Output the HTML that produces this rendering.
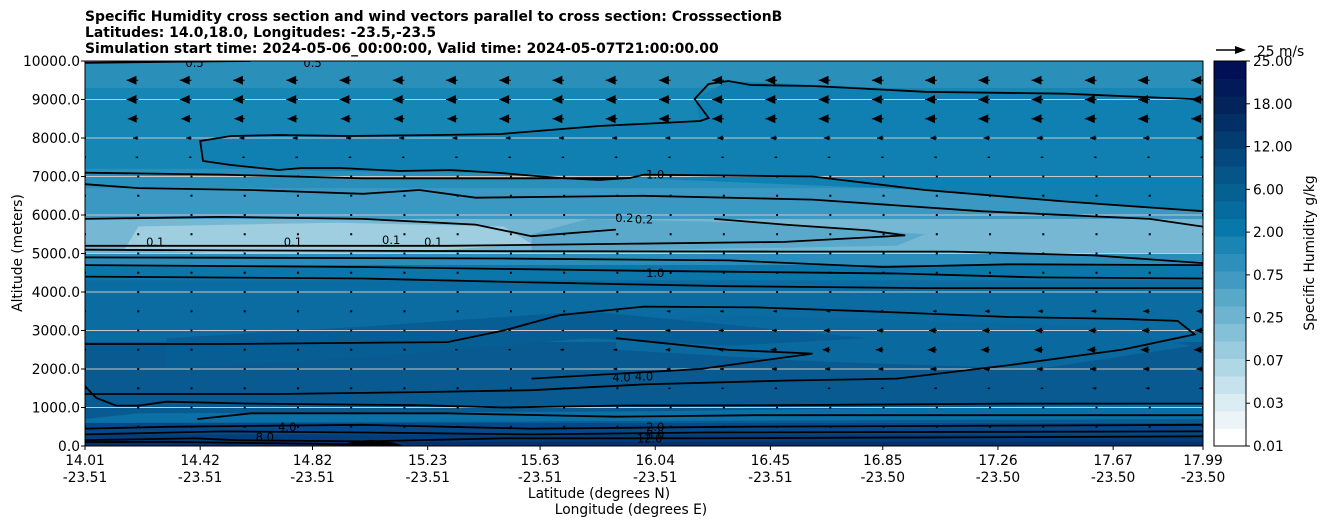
<!DOCTYPE html>
<html><head><meta charset="utf-8"><style>
body{margin:0;background:#fff;width:1326px;height:526px;overflow:hidden;font-family:"Liberation Sans","DejaVu Sans",sans-serif}
svg text{font-family:"DejaVu Sans","Liberation Sans",sans-serif}
</style></head><body>
<svg id="c" width="1326" height="526" xmlns="http://www.w3.org/2000/svg">
<g font-size="13.9" font-weight="bold">
<text x="85" y="21">Specific Humidity cross section and wind vectors parallel to cross section: CrosssectionB</text>
<text x="85" y="37">Latitudes: 14.0,18.0, Longitudes: -23.5,-23.5</text>
<text x="85" y="53">Simulation start time: 2024-05-06_00:00:00, Valid time: 2024-05-07T21:00:00.00</text>
</g>
<defs><clipPath id="pc"><rect x="85" y="61" width="1118" height="385"/></clipPath></defs>
<g id="fills" clip-path="url(#pc)"></g>
<g id="grid"></g>
<g id="lines" clip-path="url(#pc)" fill="none" stroke="#000" stroke-width="1.8"></g>
<g id="vecs" clip-path="url(#pc)"></g>
<g id="axes"></g>
<g id="cbar"></g>
</svg>
<script>
// ---- data ----
const latTicks=["14.01","14.42","14.82","15.23","15.63","16.04","16.45","16.85","17.26","17.67","17.99"];
const lonTicks=["-23.51","-23.51","-23.51","-23.51","-23.51","-23.51","-23.51","-23.50","-23.50","-23.50","-23.50"];
const latVals=[14.01,14.42,14.82,15.23,15.63,16.04,16.45,16.85,17.26,17.67,17.99];
const altTicks=[0,1000,2000,3000,4000,5000,6000,7000,8000,9000,10000];
const cbLabels=["0.01","0.03","0.07","0.25","0.75","2.00","6.00","12.00","18.00","25.00"];
const cbColors=["#ffffff","#ecf4f8","#dbecf2","#c6e2ec","#b0d7e5","#9bcbdf","#84c0d8","#6eb4d0","#58a8c8","#4299c1","#2e8fbb","#1a84b3","#0878aa","#066c9f","#066193","#055589","#04487d","#033c71","#022f66","#02245b","#02195a","#010f55"];
// background bands: [altLow, altHigh, color]
const bands=[[0,10000,"#1686b5"],[9300,10000,"#2a90ba"],[6700,7200,"#2a8fbb"],[5900,6700,"#3a98c2"],[5000,5900,"#76b8d3"],[4700,5000,"#2a8cba"],[4300,4700,"#0b76aa"],[2600,4300,"#0a6ca0"],[600,2700,"#085a91"],[300,600,"#05498a"],[120,300,"#033d7a"],[0,120,"#06306b"]];
// extra fill polygons [lat,alt] with color
const polys=[
 {c:"#0f80b1",p:[[14.42,7922],[14.7,8078],[15.5,8104],[16.2,8442],[16.18,9013],[16.3,9481],[17.0,9250],[17.99,9000],[17.99,6100],[17.0,6650],[16.0,6950],[15.5,7091],[14.7,7169],[14.43,7403]]},
 {c:"#9fcee0",p:[[14.15,5100],[14.5,5000],[15.2,5050],[15.6,5250],[15.5,5700],[14.9,5800],[14.2,5700]]},
 {c:"#5aa9cb",p:[[15.6,5050],[16.5,5150],[16.9,5200],[17.0,5500],[16.4,5800],[15.8,5900],[15.6,5500]]},
 {c:"#0a6aa0",p:[[15.9,2500],[16.6,2200],[17.4,2000],[17.95,2600],[17.6,3100],[16.8,3300],[16.2,3400],[15.9,3000]]},
 {c:"#065e95",p:[[14.3,2000],[15.0,2300],[15.8,2800],[16.3,2600],[16.8,2800],[15.8,3500],[15.0,3100],[14.3,2800]]},
 {c:"#0a70a5",p:[[14.01,700],[14.2,850],[16,900],[17.99,1100],[17.99,700],[14.01,600]]},
 {c:"#000000",p:[[14.91,0],[14.97,130],[15.03,160],[15.1,100],[15.15,0]]}
];
// contour lines [lat,alt]
const contours=[
 [[14.01,9950],[14.3,9980],[14.6,10000]],
 [[17.99,9000],[17.5,9150],[17.0,9200],[16.6,9350],[16.38,9377],[16.30,9481],[16.23,9403],[16.18,9013],[16.23,8519],[16.20,8442],[16.06,8390],[15.84,8312],[15.49,8104],[15.27,8078],[14.95,8052],[14.70,8078],[14.53,8052],[14.42,7922],[14.43,7403],[14.53,7299],[14.70,7169],[14.78,7221],[14.92,7221],[15.13,7143],[15.31,7169],[15.49,7091],[15.70,6961],[15.84,6909],[15.95,6960]],
 [[14.01,7100],[14.5,7050],[15.0,6950],[15.6,6950],[15.95,6960],[16.0,7050],[16.6,7000],[17.0,6650],[17.5,6350],[17.99,6100]],
 [[14.01,6800],[14.2,6700],[14.6,6650],[15.0,6550],[15.2,6650],[15.4,6450],[16.0,6500],[16.6,6400],[17.2,6100],[17.8,5900],[17.99,5700]],
 [[14.01,5900],[14.5,5950],[15.0,5900],[15.4,5750],[15.6,5450],[15.9,5620]],
 [[16.25,5900],[16.5,5750],[16.8,5600],[16.93,5470],[16.5,5300],[15.9,5250],[15.3,5200],[14.8,5200],[14.3,5200],[14.01,5200]],
 [[14.01,5100],[14.5,5080],[15.5,5060],[16.5,5050],[17.1,5050],[17.6,4950],[17.99,4750]],
 [[14.01,4900],[14.5,4890],[15.5,4870],[16.3,4820],[16.85,4650],[17.3,4720],[17.99,4700]],
 [[14.01,4700],[15.0,4650],[16.0,4550],[16.9,4480],[17.4,4380],[17.99,4350]],
 [[14.01,4400],[15.0,4350],[15.6,4250],[16.3,4150],[17.0,4100],[17.99,4100]],
 [[14.01,2650],[14.5,2650],[15.3,2700],[15.5,3000],[15.7,3400],[16.0,3620],[16.4,3600],[16.8,3500],[17.3,3350],[17.7,3300],[17.9,3250],[17.96,2900],[17.7,2500],[17.3,2100],[16.9,1750],[16.5,1700],[16.0,1600],[15.6,1450],[15.2,1400],[14.7,1350],[14.01,1350]],
 [[15.6,1750],[16.2,2000],[16.6,2400],[16.3,2500],[15.9,2800]],
 [[14.01,1550],[14.05,1250],[14.12,1050],[14.2,1050],[14.3,1150],[14.6,1100],[15.2,1060],[15.5,1000],[15.9,1050],[16.5,1060],[17.3,1100],[17.99,1100]],
 [[14.41,700],[14.6,850],[15.3,850],[15.9,760],[16.4,800],[17.0,800],[17.99,800]],
 [[14.01,450],[14.3,500],[15.0,550],[15.6,450],[16.3,500],[17.99,550]],
 [[14.01,300],[14.5,380],[15.0,350],[15.6,300],[16.2,350],[17.99,380]],
 [[14.01,150],[14.4,200],[14.55,150],[15.0,120],[15.5,200],[16.2,200],[17.99,250]],
 [[14.01,100],[14.3,110],[14.8,60],[15.0,30]]
];
const labels=[["1.0",16.04,7050],["0.2",15.93,5920],["0.2",16.0,5880],["1.0",16.04,4500],["4.0",15.92,1780],["4.0",16.0,1800],["2.0",16.04,500],["8.0",16.04,300],["12.0",16.02,200],["4.0",14.73,500],["8.0",14.65,230],["0.5",14.4,9950],["0.5",14.82,9950],["0.1",14.26,5300],["0.1",14.75,5300],["0.1",15.1,5350],["0.1",15.25,5300]];
// wind rows: altitude, u (m/s) per column (22 columns)
const rowAlt=[9500,9000,8500,8000,7500,7000,6500,6000,5500,5000,4500,4000,3500,3000,2500,2000,1500,1000,500];
const rowU=[
 [-2,-9,-9,-9,-9,-9,-9,-9,-9,-9,-9,-9,-9,-9,-9,-9,-9,-9,-9,-9,-9,-9],
 [-2,-9,-9,-9,-9,-9,-9,-9,-9,-9,-9,-9,-9,-9,-9,-9,-9,-9,-9,-9,-9,-9],
 [-2,-8,-8,-8,-8,-8,-8,-8,-9,-9,-9,-9,-9,-9,-9,-9,-9,-9,-9,-9,-9,-9],
 [-1,-4,-4,-4,-4,-4,-4,-4,-4,-4,-4,-4,-5,-5,-5,-5,-5,-5,-5,-5,-5,-5],
 [-1,-2,-2,-2,-2,-2,-2,-2,-2,-2,-2,-2,-2,-2,-2,-2,-2,-2,-2,-2,-2,-2],
 [-1,-1,-1,-1,-1,-1,-1,-1,-1,-1,-1,-1,-1,-1,-1,-1,-1,-1,-1,-1,-1,-1],
 [-1,-1,-1,-1,-1,-1,-1,-1,-1,-1,-1,-1,-1,-1,-1,-1,-1,-1,-1,-1,-1,-1],
 [-1,-1,-1,-1,-1,-1,-1,-1,-1,-1,-1,-1,-1,-1,-1,-1,-1,-1,-1,-1,-1,-1],
 [-1,-1,-1,-1,-1,-1,-1,-1,-1,-1,-1,-1,-1,-1,-1,-1,-1,-1,-1,-1,-1,-1],
 [-1,-1,-1,-1,-1,-1,-1,-1,-1,-1,-1,-1,-1,-1,-1,-1,-1,-1,-1,-1,-1,-1],
 [-1,-1,-1,-1,-1,-1,-1,-1,-1,-1,-1,-1,-1,-1,-1,-1,-1,-1,-1,-1,-1,-1],
 [-1,-1,-1,-1,-1,-1,-1,-1,-1,-1,-1,-1,-1,-1,-1,-1,-1,-1,-1,-1,-1,-1],
 [-1,-1,-1,-1,-1,-1,-1,-1,-1,-1,-1,-3,-3,-3,-3,-3,-3,-4,-4,-4,-5,-5],
 [-1,-1,-1,-1,-1,-1,-1,-2,-2,-2,-3,-4,-4,-4,-5,-5,-6,-6,-6,-6,-6,-6],
 [-1,-1,-1,-1,-1,-1,-1,-2,-2,-3,-3,-4,-4,-5,-6,-6,-7,-7,-7,-7,-7,-7],
 [-1,-1,-1,-1,-1,-1,-1,-1,-1,-2,-3,-3,-3,-4,-4,-4,-5,-5,-5,-5,-5,-5],
 [-1,-1,-1,-1,-1,-1,-1,-1,-1,-1,-1,-2,-2,-2,-2,-2,-2,-2,-2,-3,-3,-3],
 [-1,-1,-1,-1,-1,-1,-1,-1,-1,-1,-1,-1,-1,-1,-1,-1,-1,-1,-1,-1,-1,-1],
 [-1,-1,-1,-1,-1,-1,-1,-1,-1,-1,-1,-1,-1,-1,-1,-1,-1,-1,-1,-1,-1,-1]
];
// ---- scales ----
const X0=85,X1=1203,Y0=446,Y1=61;
const xs=l=>X0+(l-14.01)/(17.99-14.01)*(X1-X0);
const ys=a=>Y0-a/10000*(Y0-Y1);
const NS="http://www.w3.org/2000/svg";
function mk(t,a,p){const e=document.createElementNS(NS,t);for(const k in a)e.setAttribute(k,a[k]);p.appendChild(e);return e;}
const G=id=>document.getElementById(id);
const FS=13.8;
// fills
bands.forEach(b=>{const r=mk("rect",{x:X0,y:ys(b[1]),width:X1-X0,height:ys(b[0])-ys(b[1]),fill:b[2]},G("fills"));

});
polys.forEach(o=>{const e=mk("polygon",{points:o.p.map(q=>xs(q[0])+","+ys(q[1])).join(" "),fill:o.c},G("fills"));

});
// grid
altTicks.forEach(a=>{const e=mk("line",{x1:X0,x2:X1,y1:ys(a),y2:ys(a),stroke:"#c8c8c8","stroke-width":1},G("grid"));

});
// contours
contours.forEach(c=>{const e=mk("polyline",{points:c.map(q=>xs(q[0]).toFixed(1)+","+ys(q[1]).toFixed(1)).join(" ")},G("lines"));

});
labels.forEach(l=>{const e=mk("text",{x:xs(l[1]),y:ys(l[2])+4,"font-size":11.5,"text-anchor":"middle",fill:"#000",stroke:"none"},G("lines"));e.textContent=l[0];

});
// vectors
const colStep=(X1-X0)/21;
rowAlt.forEach((a,ri)=>{rowU[ri].forEach((u,ci)=>{
 const x=X0+ci*colStep,y=ys(a),L=Math.abs(u);
 const g=mk("g",{},G("vecs"));
 
 
 if(L<=1){mk("rect",{x:x-1,y:y-1,width:2,height:2,fill:"#000"},g);return;}
 const hl=Math.min(L*1.1,11),hw=Math.min(L*0.5,4.5);
 mk("line",{x1:x,y1:y,x2:x+u*1.3,y2:y,stroke:"#000","stroke-width":1},g);
 const tx=x+u*1.3;
 mk("polygon",{points:`${tx},${y} ${tx+hl},${y-hw} ${tx+hl},${y+hw}`,fill:"#000"},g);
});});
// axes
const ax=G("axes");
mk("rect",{x:X0,y:Y1,width:X1-X0,height:Y0-Y1,fill:"none",stroke:"#000","stroke-width":1},ax);
altTicks.forEach(a=>{mk("line",{x1:X0-4,x2:X0,y1:ys(a),y2:ys(a),stroke:"#000"},ax);
 const t=mk("text",{x:X0-5,y:ys(a)+5,"font-size":FS,"text-anchor":"end"},ax);t.textContent=a.toFixed(1);
 
 });
latVals.forEach((l,i)=>{const x=xs(l);mk("line",{x1:x,x2:x,y1:Y0,y2:Y0+4,stroke:"#000"},ax);
 const t=mk("text",{x:x,y:465,"font-size":FS,"text-anchor":"middle"},ax);t.textContent=latTicks[i];
 
 
 const t2=mk("text",{x:x,y:482,"font-size":FS,"text-anchor":"middle"},ax);t2.textContent=lonTicks[i];
 
 });
let t=mk("text",{x:599,y:498,"font-size":FS,"text-anchor":"middle"},ax);t.textContent="Latitude (degrees N)";


t=mk("text",{x:631,y:514,"font-size":FS,"text-anchor":"middle"},ax);t.textContent="Longitude (degrees E)";


t=mk("text",{x:0,y:0,"font-size":FS,"text-anchor":"middle",transform:"translate(22,253) rotate(-90)"},ax);t.textContent="Altitude (meters)";


// colorbar
const cb=G("cbar"),CX=1214,CW=32,n=cbColors.length,bh=(Y0-Y1)/n;
cbColors.forEach((c,i)=>{const r=mk("rect",{x:CX,y:Y0-(i+1)*bh,width:CW,height:bh+0.5,fill:c},cb);

});
mk("rect",{x:CX,y:Y1,width:CW,height:Y0-Y1,fill:"none",stroke:"#000"},cb);
cbLabels.forEach((l,i)=>{const y=Y0-i*(Y0-Y1)/(cbLabels.length-1);
 mk("line",{x1:CX+CW,x2:CX+CW+4,y1:y,y2:y,stroke:"#000"},cb);
 const e=mk("text",{x:CX+CW+7,y:y+5,"font-size":FS},cb);e.textContent=l;
 
 });
t=mk("text",{x:0,y:0,"font-size":FS,"text-anchor":"middle",transform:"translate(1314,253) rotate(-90)"},cb);t.textContent="Specific Humidity g/kg";


// quiver key
const qk=mk("g",{},cb);


mk("line",{x1:1216,x2:1236,y1:50,y2:50,stroke:"#000","stroke-width":1.5},qk);
mk("polygon",{points:"1246,50 1235,46 1235,54",fill:"#000"},qk);
t=mk("text",{x:1257,y:56,"font-size":FS},qk);t.textContent="25 m/s";
</script>
</body></html>
